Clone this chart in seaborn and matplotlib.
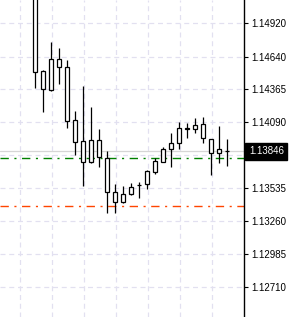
import matplotlib
matplotlib.use("Agg")
import matplotlib.pyplot as plt
import seaborn as sns
import numpy as np
import pandas as pd

# ---- data ----
opens  = [1.15283, 1.14520, 1.14360, 1.14620, 1.14553, 1.14109, 1.13932, 1.13756, 1.13941, 1.13790,
          1.13505, 1.13421, 1.13488, 1.13563, 1.13572, 1.13672, 1.13756, 1.13865, 1.13916, 1.14033,
          1.14033, 1.14075, 1.13949, 1.13832, 1.13849]
highs  = [1.15367, 1.14528, 1.14763, 1.14713, 1.14612, 1.14184, 1.14394, 1.14218, 1.14033, 1.13849,
          1.13572, 1.13555, 1.13580, 1.13589, 1.13690, 1.13790, 1.13882, 1.14000, 1.14092, 1.14084,
          1.14125, 1.14134, 1.13949, 1.14058, 1.13949]
lows   = [1.14377, 1.14176, 1.14355, 1.14411, 1.14042, 1.13815, 1.13555, 1.13748, 1.13714, 1.13328,
          1.13328, 1.13412, 1.13479, 1.13454, 1.13530, 1.13656, 1.13756, 1.13714, 1.13865, 1.13958,
          1.14000, 1.13916, 1.13647, 1.13748, 1.13723]
closes = [1.14511, 1.14369, 1.14620, 1.14553, 1.14100, 1.13924, 1.13756, 1.13941, 1.13798, 1.13505,
          1.13421, 1.13488, 1.13547, 1.13560, 1.13681, 1.13765, 1.13865, 1.13916, 1.14042, 1.14038,
          1.14067, 1.13958, 1.13832, 1.13865, 1.13846]
tick_labels = ["1.14920", "1.14640", "1.14365", "1.14090", "1.13815",
               "1.13535", "1.13260", "1.12985", "1.12710"]
current_price = 1.13846
green_level = 1.13790
orange_level = 1.13383

df = pd.DataFrame({"open": opens, "high": highs, "low": lows, "close": closes})
df["idx"] = np.arange(len(df))
df["bottom"] = df[["open", "close"]].min(axis=1)
df["height"] = (df["open"] - df["close"]).abs()

sns.set_style("white")
plt.rcParams["font.family"] = ["Liberation Sans", "DejaVu Sans"]

fig = plt.figure(figsize=(2.91, 3.17), dpi=100)
ax = fig.add_axes([0, 0, 244 / 291, 1])

# grid
ax.set_xticks(np.arange(-1.92, 26, 4))
ax.set_xticklabels([])
tick_vals = [float(t) for t in tick_labels]
ax.set_yticks(tick_vals)
ax.set_yticklabels(tick_labels)
ax.grid(True, color="#e2e0f0", linestyle=(0, (4, 3)), linewidth=0.9)
ax.set_axisbelow(True)

# bid line
ax.axhline(current_price, color="#d6d6d6", lw=0.9, zorder=1)
# levels
ax.axhline(green_level, color="#008000", lw=1.0, linestyle=(0, (6, 4, 1.5, 4)), zorder=2)
ax.axhline(orange_level, color="#ff4500", lw=1.0, linestyle=(0, (6, 4, 1.5, 4)), zorder=2)

# wicks
ax.vlines(df["idx"], df["low"], df["high"], color="black", lw=0.9, zorder=3)
# bodies
ax.bar(df["idx"], df["height"].clip(lower=0.00001), bottom=df["bottom"], width=0.5,
       color="white", edgecolor="black", linewidth=0.9, zorder=4)

ax.set_xlim(-4.375, 26.125)
ax.set_ylim(1.1245581, 1.1511547)

for s in ["top", "left", "bottom"]:
    ax.spines[s].set_visible(False)
ax.spines["right"].set_color("black")
ax.spines["right"].set_linewidth(1.0)
ax.yaxis.tick_right()
ax.tick_params(axis="y", direction="out", length=3, width=0.8, color="black",
               labelsize=7, labelcolor="black", pad=2)
ax.tick_params(axis="x", length=0)

# price label box
ax.annotate(f"{current_price:.5f}", xy=(1.0, current_price), xycoords=("axes fraction", "data"),
            xytext=(3.5, 0), textcoords="offset points", ha="left", va="center",
            fontsize=7, color="white", zorder=10, annotation_clip=False,
            bbox=dict(boxstyle="square,pad=0.35", fc="black", ec="black"))

fig.savefig("out.png", dpi=100)
